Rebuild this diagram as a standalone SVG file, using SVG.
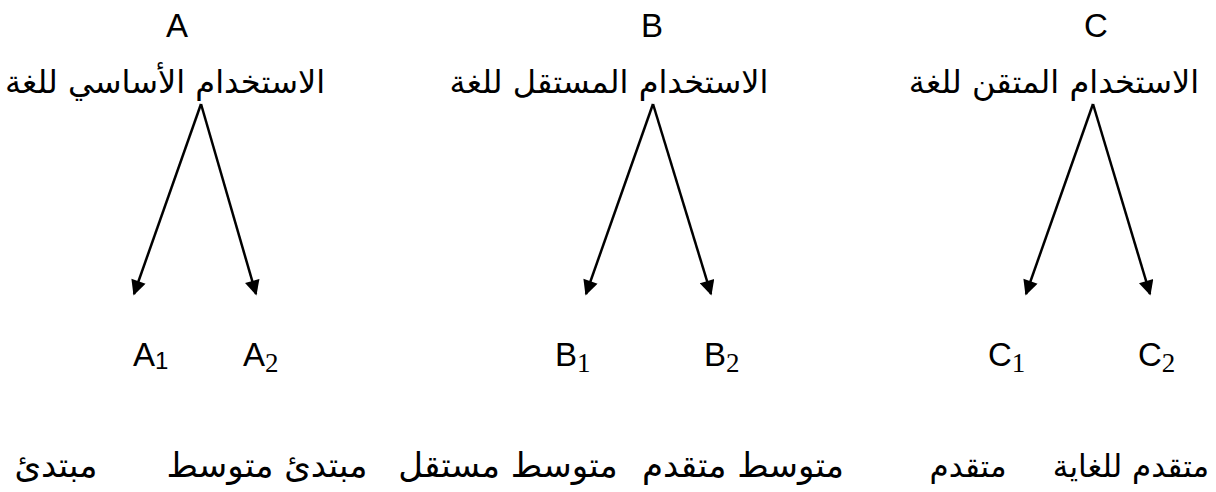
<svg xmlns="http://www.w3.org/2000/svg" width="1216" height="492" viewBox="0 0 1216 492">
<style>
.lat{font-family:"Liberation Sans",Arial,sans-serif;font-size:33px;fill:#000}
.sub{font-family:"Liberation Serif","Times New Roman",serif;font-size:27px;fill:#000}
.subs{font-family:"Liberation Sans",Arial,sans-serif;font-size:24px;fill:#000}
.ar{font-family:"DejaVu Sans","Noto Sans",sans-serif;font-size:32px;fill:#000}
.arb{font-family:"DejaVu Sans","Noto Sans",sans-serif;font-size:31px;fill:#000}
.arser{font-family:"DejaVu Serif","DejaVu Sans",serif;font-size:34px;fill:#000}
.c{stroke:#000;stroke-width:2.5;fill:none}
</style>
<defs>
<marker id="ah" viewBox="0 0 10 10" refX="9" refY="5" markerWidth="6.5" markerHeight="6" orient="auto" markerUnits="strokeWidth">
<path d="M0,0 L10,5 L0,10 z" fill="#000"/>
</marker>
</defs>
<g id="nodeA">
<text class="lat" x="177" y="37" text-anchor="middle">A</text>
<text class="ar" x="165" y="93" text-anchor="middle" direction="rtl">الاستخدام الأساسي للغة</text>
</g>
<g id="nodeB">
<text class="lat" x="652" y="37" text-anchor="middle">B</text>
<text class="ar" x="609" y="93" text-anchor="middle" direction="rtl">الاستخدام المستقل للغة</text>
</g>
<g id="nodeC">
<text class="lat" x="1096" y="37" text-anchor="middle">C</text>
<text class="ar" x="1054" y="93" text-anchor="middle" direction="rtl">الاستخدام المتقن للغة</text>
</g>
<g id="nodeA1">
<text class="lat" x="133" y="366">A<tspan class="subs" dy="3">1</tspan></text>
<text class="arser" x="56" y="477" text-anchor="middle" direction="rtl">مبتدئ</text>
</g>
<g id="nodeA2">
<text class="lat" x="243" y="366">A<tspan class="sub" dy="6">2</tspan></text>
<text class="arser" x="267" y="477" text-anchor="middle" direction="rtl">مبتدئ متوسط</text>
</g>
<g id="nodeB1">
<text class="lat" x="555" y="366">B<tspan class="sub" dy="6">1</tspan></text>
<text class="arser" x="508" y="477" text-anchor="middle" direction="rtl">متوسط مستقل</text>
</g>
<g id="nodeB2">
<text class="lat" x="704" y="366">B<tspan class="sub" dy="6">2</tspan></text>
<text class="arser" x="743" y="477" text-anchor="middle" direction="rtl">متوسط متقدم</text>
</g>
<g id="nodeC1">
<text class="lat" x="988" y="366">C<tspan class="sub" dy="6">1</tspan></text>
<text class="arb" x="968" y="477" text-anchor="middle" direction="rtl">متقدم</text>
</g>
<g id="nodeC2">
<text class="lat" x="1138" y="366">C<tspan class="sub" dy="6">2</tspan></text>
<text class="arb" x="1131" y="477" text-anchor="middle" direction="rtl">متقدم للغاية</text>
</g>
<g id="connectors">
<line class="c" x1="201" y1="104" x2="134" y2="294" marker-end="url(#ah)"/>
<line class="c" x1="201" y1="104" x2="256" y2="294" marker-end="url(#ah)"/>
<line class="c" x1="653" y1="104" x2="586" y2="294" marker-end="url(#ah)"/>
<line class="c" x1="653" y1="104" x2="711" y2="294" marker-end="url(#ah)"/>
<line class="c" x1="1093" y1="104" x2="1026" y2="294" marker-end="url(#ah)"/>
<line class="c" x1="1093" y1="104" x2="1150" y2="294" marker-end="url(#ah)"/>
</g>
</svg>
